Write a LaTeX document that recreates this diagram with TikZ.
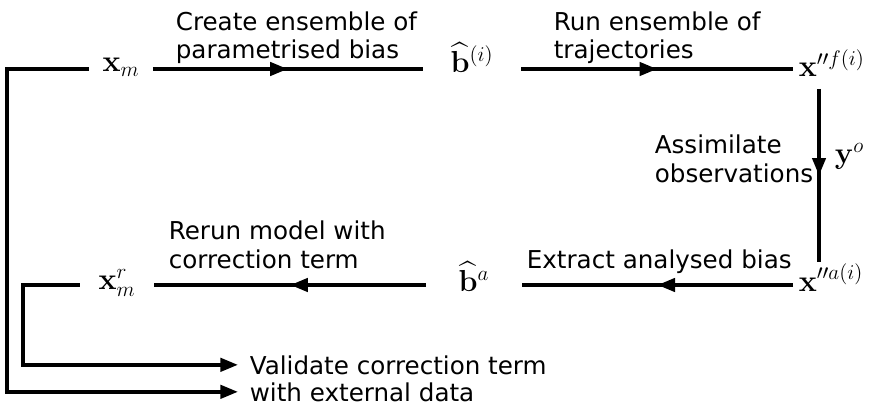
\documentclass[tikz,border=0pt]{standalone}
\usepackage[no-math]{fontspec}
\setmainfont{DejaVu Sans}
\usepackage{amsmath}
\usetikzlibrary{arrows.meta, positioning, decorations.markings}

\begin{document}
\begin{tikzpicture}[
  x=0.02cm, y=-0.02cm,
  line width=2.1pt,
  mnode/.style={inner sep=0pt, font=\fontsize{18.5}{21}\selectfont},
  lbl/.style={inner sep=0pt, align=left, anchor=base west,
              font=\fontsize{14}{16.5}\selectfont},
  arr/.style={-{Triangle[length=10pt, width=7.5pt]}},
  midarr/.style={postaction={decorate}, decoration={markings,
      mark=at position 0.5 with {\arrow{Triangle[length=10pt, width=7.5pt]}}}}
]
  \useasboundingbox (0,0) rectangle (874,405);
  \coordinate (top) at (0,69);
  \coordinate (bot) at (0,285);
  \coordinate (vx)  at (819,0);

  % states
  \node[mnode, minimum width=1.2cm]  (xm) at (121,67)  {$\mathbf{x}_m$};
  \node[mnode, minimum width=1.9cm]  (bi) at (472,58)  {$\widehat{\mathbf{b}}^{(i)}$};
  \node[mnode, anchor=base west, inner xsep=0.08cm, inner ysep=0.2cm]
       (xf) at (793,77) {$\mathbf{x}''^{f(i)}$};
  \node[mnode, anchor=base west, inner xsep=0.08cm]
       (xa) at (793,291) {$\mathbf{x}''^{a(i)}$};
  \node[mnode, minimum width=1.84cm] (ba) at (474,277) {$\widehat{\mathbf{b}}^{a}$};
  \node[mnode, minimum width=1.42cm] (xr) at (117,283) {$\mathbf{x}_m^r$};
  \node[mnode, anchor=base west] (yo) at (833,164) {$\mathbf{y}^o$};

  % step labels
  \node[lbl] (create) at (174,59)  {Create ensemble of\\parametrised bias};
  \node[lbl] (run)    at (552,59)  {Run ensemble of\\trajectories};
  \node[lbl] (assim)  at (653,182) {Assimilate\\observations};
  \node[lbl] (extr)   at (525,268) {Extract analysed bias};
  \node[lbl] (rerun)  at (167,268) {Rerun model with\\correction term};
  \node[lbl, inner xsep=0.2cm] (val1) at (238,374) {Validate correction term};
  \node[lbl, inner xsep=0.2cm] (val2) at (238,401) {with external data};

  % cycle
  \draw[midarr] (xm.east |- top) -- (bi.west |- top);
  \draw[midarr] (bi.east |- top) -- (xf.west |- top);
  \draw[midarr] (vx |- xf.south) -- (vx |- xa.north);
  \draw[midarr] (xa.west |- bot) -- (ba.east |- bot);
  \draw[midarr] (ba.west |- bot) -- (xr.east |- bot);

  % validation
  \draw[arr] (xr.west |- bot) -- ++(-57,0) |- (val1.west);
  \draw[arr] (xm.west |- top) -- ++(-82,0) |- (val2.west);
\end{tikzpicture}
\end{document}
